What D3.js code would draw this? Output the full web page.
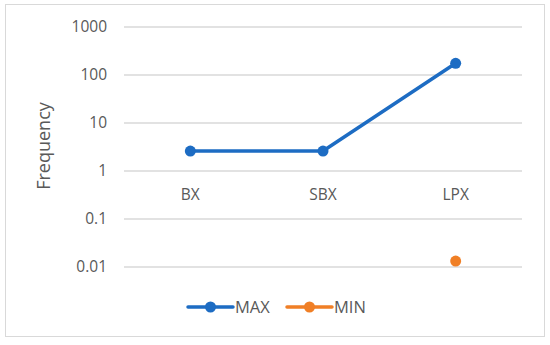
<!DOCTYPE html>
<html>
<head>
<meta charset="utf-8">
<script src="https://cdn.jsdelivr.net/npm/d3@7"></script>
<style>
  body { margin: 0; background: #fff; }
  text { font-family: "Open Sans", "Liberation Sans", sans-serif; fill: #595959; }
</style>
</head>
<body>
<div id="chart"></div>
<script>
const categories = ["BX", "SBX", "LPX"];
const maxValues = [2.6, 2.6, 175];
const minValues = [null, null, 0.0133];
const yTicks = [0.01, 0.1, 1, 10, 100, 1000];
const tickLabels = ["0.01", "0.1", "1", "10", "100", "1000"];

const width = 550, height = 345;
const margin = { top: 27, right: 28, bottom: 78, left: 124 };
const plotW = width - margin.left - margin.right;
const plotH = height - margin.top - margin.bottom;

const svg = d3.select("#chart").append("svg")
    .attr("width", width)
    .attr("height", height);

// chart border
svg.append("rect")
    .attr("x", 5.5).attr("y", 4.5)
    .attr("width", 539).attr("height", 332)
    .attr("fill", "none")
    .attr("stroke", "#d9d9d9");

const g = svg.append("g")
    .attr("transform", `translate(${margin.left},${margin.top})`);

const x = d3.scaleBand().domain(categories).range([0, plotW]);
const y = d3.scaleLog().domain([0.01, 1000]).range([240, 0]);

// gridlines
g.append("g")
    .selectAll("line")
    .data(yTicks)
    .join("line")
    .attr("x1", 0).attr("x2", plotW)
    .attr("y1", d => y(d)).attr("y2", d => y(d))
    .attr("stroke", "#d9d9d9")
    .attr("stroke-width", 1.3);

// y tick labels
g.append("g")
    .selectAll("text")
    .data(yTicks)
    .join("text")
    .attr("x", -17)
    .attr("y", d => y(d))
    .attr("dy", "0.35em")
    .attr("text-anchor", "end")
    .style("font-size", "15.5px")
    .text((d, i) => tickLabels[i]);

// category labels, axis crosses at 1
g.append("g")
    .selectAll("text")
    .data(categories)
    .join("text")
    .attr("x", d => x(d) + x.bandwidth() / 2)
    .attr("y", y(1) + 29)
    .attr("text-anchor", "middle")
    .style("font-size", "15.5px")
    .text(d => d);

// y axis title
svg.append("text")
    .attr("transform", `translate(50,146) rotate(-90)`)
    .attr("text-anchor", "middle")
    .style("font-size", "18px")
    .text("Frequency");

const series = [
    { name: "MAX", values: maxValues, color: "#1d6cc3" },
    { name: "MIN", values: minValues, color: "#f07f26" }
];

const line = d3.line()
    .defined(d => d.v != null)
    .x(d => x(d.c) + x.bandwidth() / 2)
    .y(d => y(d.v));

series.forEach(s => {
    const pts = categories.map((c, i) => ({ c: c, v: s.values[i] }));
    g.append("path")
        .datum(pts)
        .attr("fill", "none")
        .attr("stroke", s.color)
        .attr("stroke-width", 3.5)
        .attr("stroke-linejoin", "round")
        .attr("d", line);
    g.append("g")
        .selectAll("circle")
        .data(pts.filter(d => d.v != null))
        .join("circle")
        .attr("cx", d => x(d.c) + x.bandwidth() / 2)
        .attr("cy", d => y(d.v))
        .attr("r", 5.5)
        .attr("fill", s.color);
});

// legend
const legend = svg.append("g").attr("transform", "translate(188,307)");
series.forEach((s, i) => {
    const lg = legend.append("g").attr("transform", `translate(${i * 99},0)`);
    lg.append("line")
        .attr("x1", 0).attr("x2", 45)
        .attr("stroke", s.color).attr("stroke-width", 3.5)
        .attr("stroke-linecap", "round");
    lg.append("circle").attr("cx", 22.5).attr("r", 5.5).attr("fill", s.color);
    lg.append("text")
        .attr("x", 47).attr("dy", "0.35em")
        .style("font-size", "16.5px")
        .text(s.name);
});
</script>
</body>
</html>
